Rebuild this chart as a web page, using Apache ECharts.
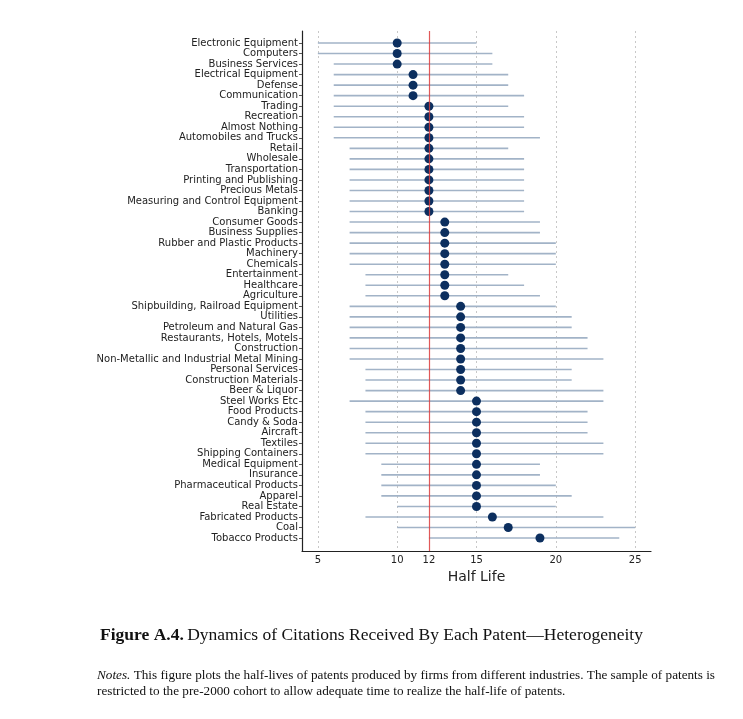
<!DOCTYPE html>
<html>
<head>
<meta charset="utf-8">
<script src="https://cdn.jsdelivr.net/npm/echarts@6/dist/echarts.min.js"></script>
<style>
html,body{margin:0;padding:0;background:#fff;}
#chart{width:743px;height:719px;}
</style>
</head>
<body>
<div id="chart"></div>
<script>
const categories = [
  "Electronic Equipment","Computers","Business Services","Electrical Equipment","Defense","Communication",
  "Trading","Recreation","Almost Nothing","Automobiles and Trucks","Retail","Wholesale","Transportation",
  "Printing and Publishing","Precious Metals","Measuring and Control Equipment","Banking","Consumer Goods",
  "Business Supplies","Rubber and Plastic Products","Machinery","Chemicals","Entertainment","Healthcare",
  "Agriculture","Shipbuilding, Railroad Equipment","Utilities","Petroleum and Natural Gas",
  "Restaurants, Hotels, Motels","Construction","Non-Metallic and Industrial Metal Mining","Personal Services",
  "Construction Materials","Beer & Liquor","Steel Works Etc","Food Products","Candy & Soda","Aircraft",
  "Textiles","Shipping Containers","Medical Equipment","Insurance","Pharmaceutical Products","Apparel",
  "Real Estate","Fabricated Products","Coal","Tobacco Products"
];
const halfLife = [10,10,10,11,11,11,12,12,12,12,12,12,12,12,12,12,12,13,13,13,13,13,13,13,13,
  14,14,14,14,14,14,14,14,14,15,15,15,15,15,15,15,15,15,15,15,16,17,19];
const lowerBound = [5,5,6,6,6,6,6,6,6,6,7,7,7,7,7,7,7,7,7,7,7,7,8,8,8,
  7,7,7,7,7,7,8,8,8,7,8,8,8,8,8,9,9,9,9,10,8,10,12];
const upperBound = [15,16,16,17,17,18,17,18,18,19,17,18,18,18,18,18,18,19,19,20,20,20,17,18,19,
  20,21,21,22,22,23,21,21,23,23,22,22,22,23,23,19,19,20,21,20,23,25,24];
const xTickValues = [5,10,12,15,20,25];
const gridLineValues = [5,10,15,20,25];
const referenceValue = 12;

const chart = echarts.init(document.getElementById('chart'));
const idx = categories.map((_, i) => i);
const rangeData = categories.map((_, i) => [lowerBound[i], upperBound[i], i]);
const dotData = categories.map((_, i) => [halfLife[i], i]);

const option = {
  backgroundColor: '#ffffff',
  animation: false,
  textStyle: { fontFamily: 'DejaVu Sans' },
  grid: { left: 302, right: 92, top: 31, bottom: 168, containLabel: false },
  xAxis: {
    type: 'value', min: 4, max: 26,
    axisLine: { show: true, onZero: false, lineStyle: { color: '#222', width: 1.2 } },
    axisTick: { show: false },
    splitLine: { show: false },
    axisLabel: {
      customValues: xTickValues,
      fontSize: 10, margin: 4,
      color: function (v) { return v === referenceValue ? '#d03030' : '#222'; }
    },
    name: 'Half Life', nameLocation: 'middle', nameGap: 14,
    nameTextStyle: { fontSize: 14, color: '#222', fontFamily: 'DejaVu Sans' }
  },
  yAxis: {
    type: 'value', inverse: true, min: -1.14, max: 48.23,
    axisLine: { show: true, onZero: false, lineStyle: { color: '#222', width: 1.2 } },
    axisTick: { show: true, customValues: idx, length: 3, lineStyle: { color: '#555' } },
    splitLine: { show: false },
    axisLabel: {
      customValues: idx,
      fontSize: 10, margin: 4, color: '#222',
      formatter: function (v) { return categories[Math.round(v)] || ''; }
    }
  },
  series: [
    {
      type: 'line', data: [], z: 1, silent: true,
      markLine: {
        z: 1,
        silent: true, symbol: 'none', label: { show: false },
        lineStyle: { color: '#c8c8c8', type: [2, 3], width: 1 },
        data: gridLineValues.map(v => ({ xAxis: v }))
      }
    },
    {
      type: 'custom', z: 2, silent: true,
      data: rangeData,
      renderItem: function (params, api) {
        const a = api.coord([api.value(0), api.value(2)]);
        const b = api.coord([api.value(1), api.value(2)]);
        return {
          type: 'line',
          shape: { x1: a[0], y1: a[1], x2: b[0], y2: b[1] },
          style: { stroke: '#a2b3c7', lineWidth: 1.6 }
        };
      }
    },
    {
      type: 'scatter', z: 3, silent: true,
      data: dotData, symbol: 'circle', symbolSize: 9,
      itemStyle: { color: '#0c2f5f', opacity: 1 }
    },
    {
      type: 'line', data: [], z: 10, silent: true,
      markLine: {
        z: 10,
        silent: true, symbol: 'none', label: { show: false },
        lineStyle: { color: '#dc3c3c', type: 'solid', width: 1.2, opacity: 0.85 },
        data: [{ xAxis: referenceValue }]
      }
    }
  ],
  graphic: [
    {
      type: 'text', left: 'center', top: 626,
      style: {
        text: '{b|Figure A.4.} {r|Dynamics of Citations Received By Each Patent\u2014Heterogeneity}',
        rich: {
          b: { fontFamily: 'Liberation Serif', fontWeight: 'bold', fontSize: 17.5, fill: '#111' },
          r: { fontFamily: 'Liberation Serif', fontSize: 17.5, fill: '#111' }
        }
      }
    },
    {
      type: 'text', left: 97, top: 669,
      style: {
        text: '{i|Notes.} {r|This figure plots the half-lives of patents produced by firms from different industries. The sample of patents is}',
        rich: {
          i: { fontFamily: 'Liberation Serif', fontStyle: 'italic', fontSize: 13.2, fill: '#111' },
          r: { fontFamily: 'Liberation Serif', fontSize: 13.2, fill: '#111' }
        }
      }
    },
    {
      type: 'text', left: 97, top: 685,
      style: {
        text: 'restricted to the pre-2000 cohort to allow adequate time to realize the half-life of patents.',
        fontFamily: 'Liberation Serif', fontSize: 13.2, fill: '#111'
      }
    }
  ]
};
chart.setOption(option);
</script>
</body>
</html>
